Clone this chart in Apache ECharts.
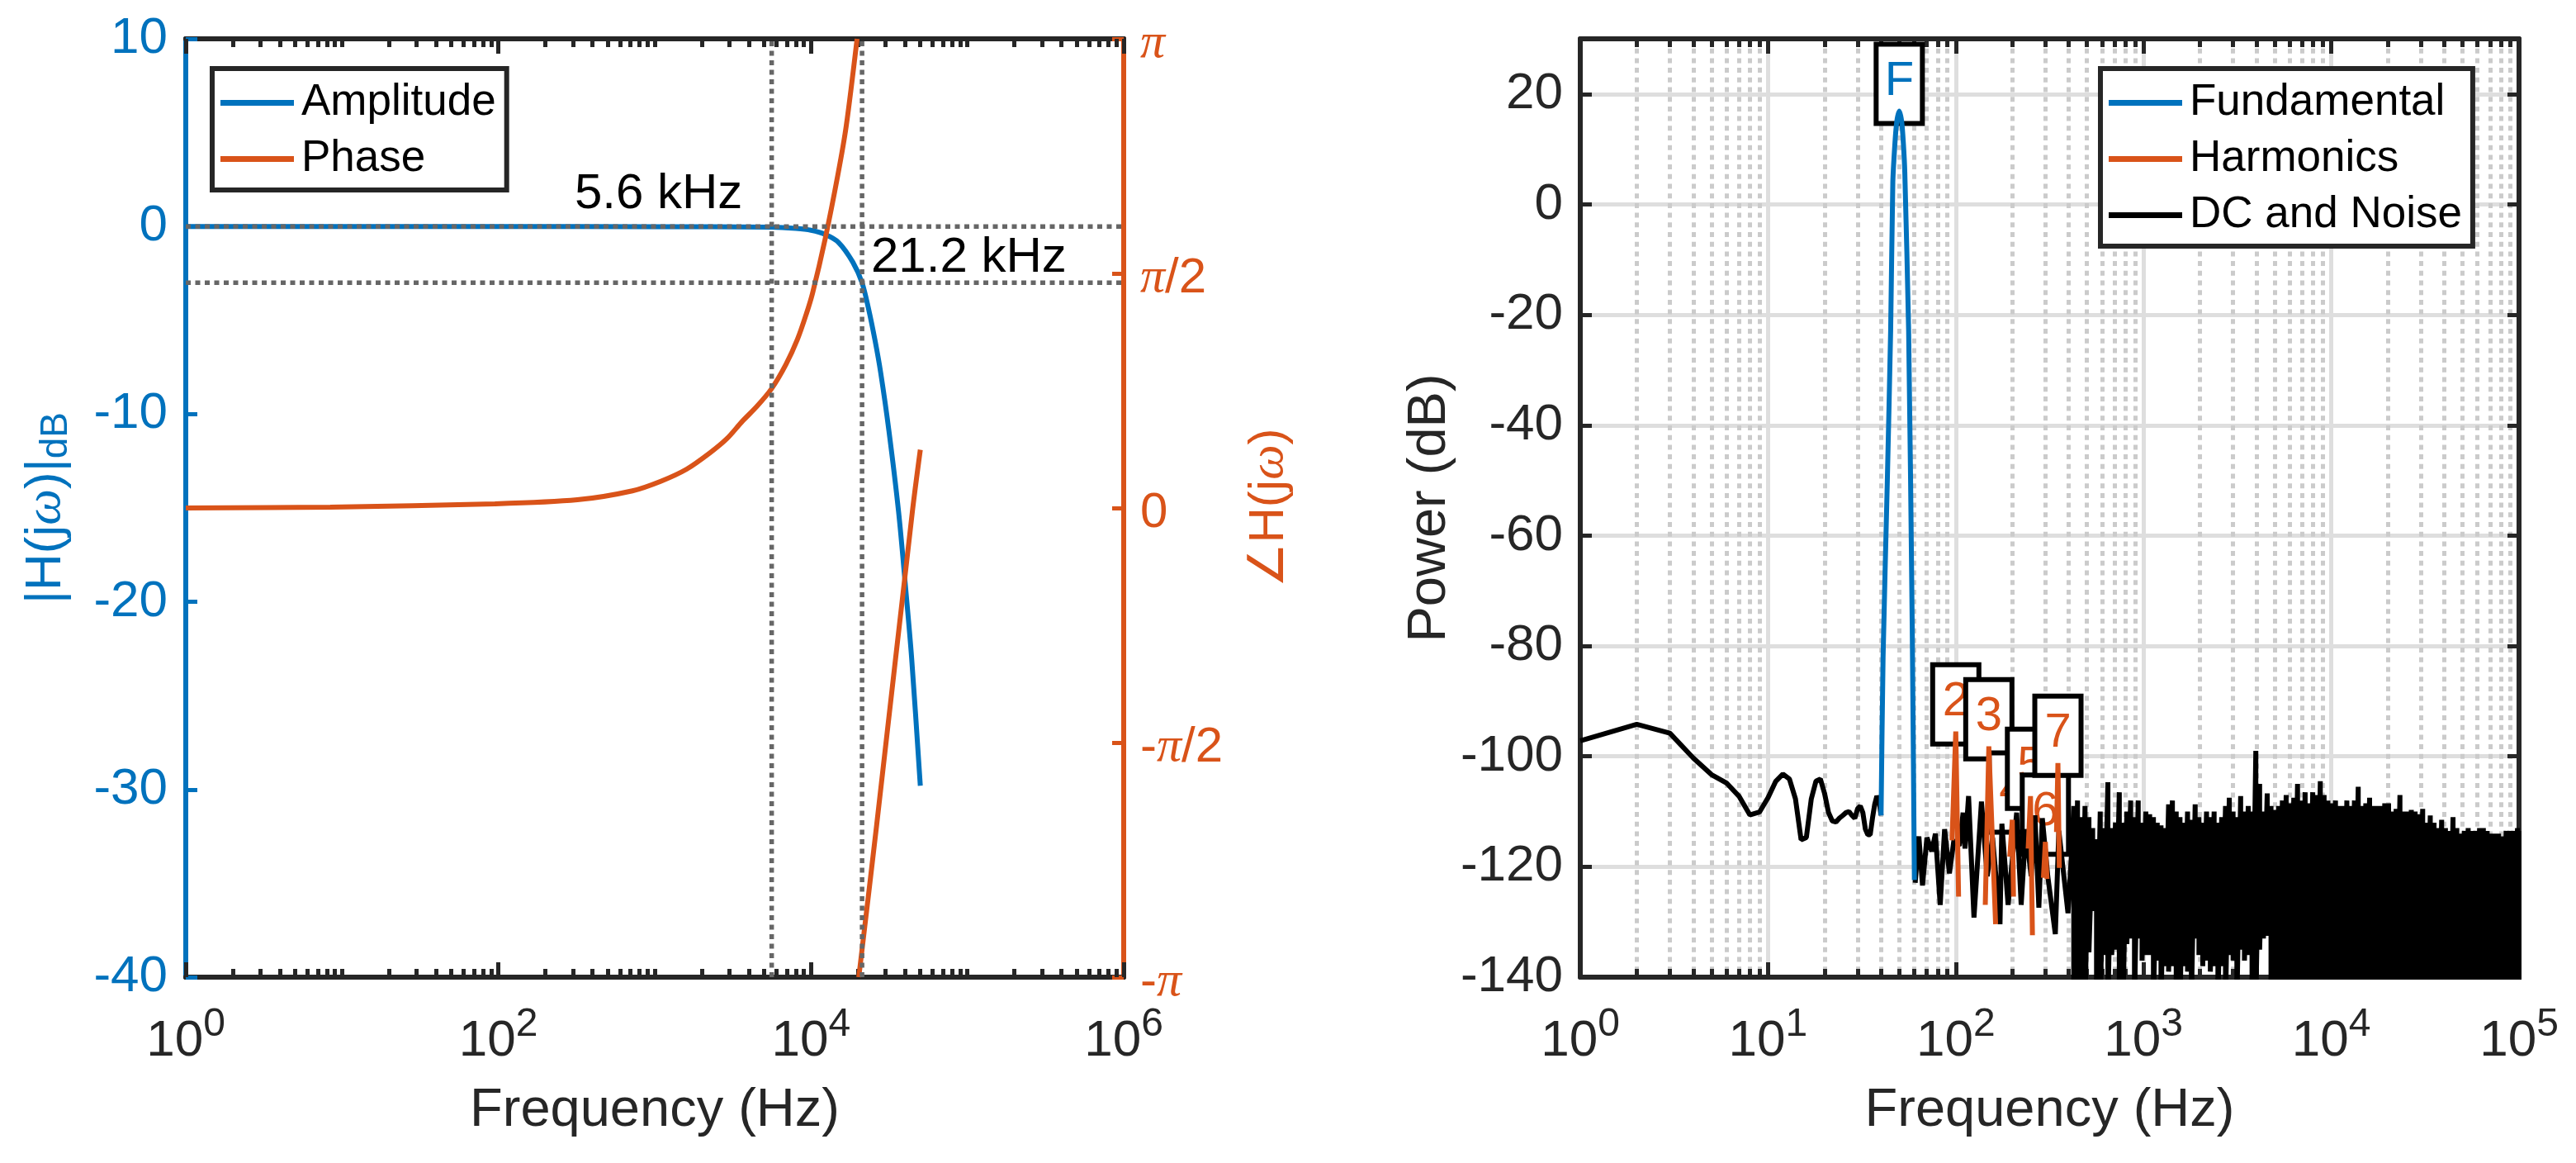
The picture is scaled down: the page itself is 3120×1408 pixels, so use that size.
<!DOCTYPE html>
<html>
<head>
<meta charset="utf-8">
<script src="https://cdn.jsdelivr.net/npm/echarts@6/dist/echarts.min.js"></script>
<style>
html, body { margin: 0; padding: 0; background: #fff; }
#main { width: 3120px; height: 1408px; }
</style>
</head>
<body>
<div id="main"></div>
<script>
var BLUE = '#0072BD', ORANGE = '#D95319', DARK = '#262626';
var FONT = '"Liberation Sans", Arial, sans-serif';

// left panel: filter response
var ampFreq = [1, 100, 1000, 5600, 8000, 10000, 12300, 15000, 18500, 21200, 23200, 25700, 27900, 31500, 36300, 40000, 44000, 50000];
var ampDb = [0, 0, -0.01, -0.03, -0.1, -0.2, -0.42, -0.85, -1.9, -3, -4.3, -6.1, -7.8, -10.9, -15.2, -19, -23, -29.8];
var phaseFreq = [1, 8.4, 95, 320, 720, 1100, 1600, 2260, 2900, 3630, 4500, 5600, 6900, 8190, 9330, 10230, 12300, 14900, 16800, 19700, 19700, 20200, 26300, 44500, 50000];
var phaseRad = [0, 0.006, 0.028, 0.055, 0.115, 0.18, 0.26, 0.37, 0.465, 0.58, 0.68, 0.8, 0.96, 1.13, 1.3, 1.44, 1.8, 2.24, 2.56, 3.14159, null, -3.14159, -2.12, -0.022, 0.39];
var cutoffFreqs = [5600, 21200];
var cutoffDbs = [0, -3];
var phaseTickLabels = ['-{i|π}', '-{i|π}/2', '0', '{i|π}/2', '{i|π}'];

// right panel: power spectrum
var fundFreq = [40, 41, 43.2, 45, 46.2, 47.4, 48.5, 50, 51.5, 52.6, 53.5, 56.1, 58.6, 60.2];
var fundDb = [-110.7, -82, -50, -22.7, 4, 11, 15, 16.9, 15, 11, 6, -23, -76, -122.4];
var fundPeakIndex = 7;

var harmFreq = [95.5, 100, 103.5, null, 143.6, 150, 163, null, 194, 200, 203, null, 243, 250, 256, null, 293, 300, 306, null, 344, 350, 356];
var harmDb = [-115.2, -95.5, -125.4, null, -126.9, -98.2, -130.4, null, -118.2, -111.5, -125.4, null, -116.7, -107.2, -132.4, null, -122, -115.5, -122.2, null, -113.7, -101.2, -120.2];
var harmLabels = ['2', '3', '4', '5', '6', '7'];
var harmPeakFreq = [100, 150, 200, 250, 300, 350];
var harmPeakDb = [-95.5, -98.2, -111.5, -107.2, -115.5, -101.2];

// low frequency part of the noise trace, read point by point
var lowFreq = [1, 2, 3, 4, 5, 6, 7, 8, 9, 10, 11, 12, 13, 14, 15, 16, 17, 18, 19, 20, 21, 22, 23, 24, 25, 26, 27, 28, 29, 30, 31, 32, 33, 34, 35, 36, 37, 38, 39, 40];
var lowDb = [-97.2, -94.2, -95.8, -100.3, -103.3, -104.8, -107.2, -110.6, -110.1, -107.5, -104.5, -103.2, -104.1, -107.7, -115.1, -114.7, -107.7, -104.5, -104.1, -106.7, -110.2, -111.7, -111.9, -111.2, -110.7, -110.2, -110, -110.7, -111.2, -109.5, -109, -110.2, -113.2, -114.2, -114.2, -111.2, -108.7, -107.2, -108, -110.7];
var midFreq = [60.8, 63.6, 66.5, 70.2, 74.5, 77.9, 82.6, 87.2, 92.5, 97.7, 104.5, 109.4, 112, 117, 125, 137, 147, 157, 172, 176, 190, 211, 223, 236, 252, 264, 277, 289, 309, 339, 354, 396, 415];
var midDb = [-122.9, -114.5, -123.4, -114.7, -117.2, -114, -126.9, -113.2, -121.2, -115.2, -116.2, -110.2, -116.7, -107.2, -129.2, -108.2, -121.7, -114.7, -130.4, -112.2, -126.9, -110.2, -126.9, -113.2, -121.7, -110.7, -127.4, -111.2, -121.7, -132.2, -113.5, -128.4, -116.7];

// dense part: top and bottom of the black band at each frequency
var bandFreq = [425, 445, 466, 488, 512, 536, 562, 588, 616, 646, 677, 709, 743, 778, 815, 854, 895, 937, 982, 1029,
    1078, 1129, 1183, 1239, 1298, 1360, 1425, 1493, 1564, 1638, 1716, 1798, 1884, 1973, 2067, 2166, 2269, 2377, 2490, 2608,
    2733, 2863, 2999, 3142, 3291, 3448, 3612, 3784, 3964, 4153, 4351, 4558, 4775, 5002, 5240, 5490, 5751, 6025, 6312, 6612,
    6927, 7257, 7602, 7964, 8343, 8741, 9157, 9593, 10050, 10528, 11029, 11554, 12104, 12680, 13284, 13916, 14578, 15272, 15999, 16761,
    17559, 18395, 19270, 20188, 21149, 22155, 23210, 24315, 25472, 26685, 27955, 29286, 30680, 32141, 33671, 35274, 36953, 38712, 40555, 42485,
    44508, 46626, 48846, 51171, 53607, 56159, 58832, 61632, 64566, 67640, 70860, 74233, 77766, 81468, 85346, 89409, 93665, 98124, 100000];
var bandTop = [-109, -108, -111, -109, -111, -113, -115, -110, -113, -104.7, -113, -112, -106.5, -112, -110, -108, -111, -108, -112, -110,
    -110.5, -111, -112, -112.5, -113, -108.7, -108, -110, -111, -112, -110, -111.5, -108.7, -111, -112, -110, -111, -110, -112, -111,
    -109, -107.5, -110, -111, -107.2, -110, -109, -110, -99, -105, -110, -106.7, -109, -109.7, -109, -108, -107, -108.5, -107.5, -105,
    -108, -106.5, -108.5, -106.5, -107, -104.5, -107, -108, -108.5, -108, -109, -109, -108, -109, -108, -105.5, -109, -108.5, -107.5, -109,
    -109, -109, -108.5, -108.5, -110, -109.5, -107, -110, -110, -109.7, -110, -110.5, -109.5, -112, -110.7, -112, -113, -111.5, -113, -113.5,
    -111, -113, -114, -113.5, -113, -113.5, -113.5, -113, -113, -113.5, -114, -114, -114, -114.5, -113.5, -113.5, -113.5, -113, -113.5];
var bandBottom = [-145, -145, -145, -145, -135.5, -128, -145, -145, -136, -145, -136, -135, -145, -145, -134, -133, -145, -133, -137, -136,
    -136, -145, -137, -145, -138, -139, -138, -145, -145, -138, -139, -145, -133, -136, -138, -137, -139, -138, -145, -138,
    -145, -136, -137, -145, -135, -137, -136, -145, -145, -135, -133, -132.5, -145, -145, -145, -145, -145, -145, -145, -145,
    -145, -145, -145, -145, -145, -145, -145, -145, -145, -145, -145, -145, -145, -145, -145, -145, -145, -145, -145, -145,
    -145, -145, -145, -145, -145, -145, -145, -145, -145, -145, -145, -145, -145, -145, -145, -145, -145, -145, -145, -145,
    -145, -145, -145, -145, -145, -145, -145, -145, -145, -145, -145, -145, -145, -145, -145, -145, -145, -145, -145];

function zip(xs, ys) {
    return xs.map(function (x, i) {
        return [x, ys[i] === null ? '-' : ys[i]];
    });
}

// low part, gap under the fundamental, middle part, then the band as vertical strokes
var noiseData = zip(lowFreq, lowDb);
noiseData.push([50, '-']);
noiseData = noiseData.concat(zip(midFreq, midDb));
bandFreq.forEach(function (f, i) {
    noiseData.push([f, bandTop[i]]);
    noiseData.push([f, bandBottom[i]]);
});

function powLabel(value) {
    return '{b|10}{s|' + Math.round(Math.log(value) / Math.LN10) + '}';
}
var powRich = {
    b: { fontSize: 62, fontFamily: FONT, color: DARK },
    s: { fontSize: 48, fontFamily: FONT, color: DARK, padding: [0, 0, 40, 0] }
};

function logAxis(opt) {
    var axis = {
        type: 'log',
        min: opt.min,
        max: opt.max,
        logBase: opt.base,
        gridIndex: opt.grid,
        position: opt.pos,
        axisLine: { show: true, onZero: false, lineStyle: { color: DARK, width: 6 } },
        axisTick: { show: opt.major, inside: true, length: opt.major ? opt.tickLen : 0, lineStyle: { color: DARK, width: 5 } },
        minorTick: { show: opt.minor, splitNumber: 9, length: 10, lineStyle: { color: DARK, width: 5 } },
        axisLabel: { show: false },
        splitLine: { show: false },
        minorSplitLine: { show: false }
    };
    if (opt.labels) {
        axis.axisLabel = { show: true, margin: 34, formatter: powLabel, rich: powRich, hideOverlap: false, showMinLabel: true, showMaxLabel: true };
        axis.name = 'Frequency (Hz)';
        axis.nameLocation = 'middle';
        axis.nameGap = 130;
        axis.nameTextStyle = { fontSize: 65, fontFamily: FONT, color: DARK };
    }
    if (opt.grids) {
        axis.splitLine = { show: true, lineStyle: { color: '#dedede', width: 5 } };
        axis.minorSplitLine = { show: true, lineStyle: { color: '#cbcbcb', width: 5, type: [6, 5.7] } };
    }
    return axis;
}

var xAxes = [
    // left panel: labels every two decades, short ticks on a second axis
    logAxis({ grid: 0, pos: 'bottom', min: 1, max: 1000000, base: 100, major: true, minor: false, tickLen: 18, labels: true }),
    logAxis({ grid: 0, pos: 'top', min: 1, max: 1000000, base: 100, major: true, minor: false, tickLen: 18 }),
    logAxis({ grid: 0, pos: 'bottom', min: 1, max: 1000000, base: 10, major: true, minor: true, tickLen: 10 }),
    logAxis({ grid: 0, pos: 'top', min: 1, max: 1000000, base: 10, major: true, minor: true, tickLen: 10 }),
    // right panel
    logAxis({ grid: 1, pos: 'bottom', min: 1, max: 100000, base: 10, major: true, minor: true, tickLen: 18, labels: true, grids: true }),
    logAxis({ grid: 1, pos: 'top', min: 1, max: 100000, base: 10, major: true, minor: true, tickLen: 18 })
];

var yAxes = [
    {
        type: 'value', gridIndex: 0, position: 'left', min: -40, max: 10, interval: 10,
        name: '|H(j{w|ω})|{d|dB}', nameLocation: 'middle', nameRotate: 90, nameGap: 134,
        nameTextStyle: {
            fontSize: 62, fontFamily: FONT, color: BLUE,
            rich: {
                w: { fontSize: 62, fontFamily: '"Liberation Serif"', fontStyle: 'italic', color: BLUE },
                d: { fontSize: 46, fontFamily: FONT, color: BLUE, padding: [24, 0, 0, 0] }
            }
        },
        axisLine: { show: true, onZero: false, lineStyle: { color: BLUE, width: 6 } },
        axisTick: { show: true, inside: true, length: 14, lineStyle: { color: BLUE, width: 5 } },
        axisLabel: { margin: 22, fontSize: 62, fontFamily: FONT, color: BLUE, padding: [10, 0, 0, 0] },
        splitLine: { show: false }
    },
    {
        type: 'value', gridIndex: 0, position: 'right', min: -Math.PI, max: Math.PI, interval: Math.PI / 2,
        name: '∠H(j{w|ω})', nameLocation: 'middle', nameRotate: 90, nameGap: 146,
        nameTextStyle: {
            fontSize: 60, fontFamily: FONT, color: ORANGE,
            rich: { w: { fontSize: 60, fontFamily: '"Liberation Serif"', fontStyle: 'italic', color: ORANGE } }
        },
        axisLine: { show: true, onZero: false, lineStyle: { color: ORANGE, width: 6 } },
        axisTick: { show: true, inside: true, length: 14, lineStyle: { color: ORANGE, width: 5 } },
        axisLabel: {
            margin: 20, fontSize: 60, fontFamily: FONT, color: ORANGE, padding: [12, 0, 0, 0],
            formatter: function (v, i) { return phaseTickLabels[i]; },
            rich: { i: { fontSize: 60, fontFamily: '"Liberation Serif"', fontStyle: 'italic', color: ORANGE } }
        },
        splitLine: { show: false }
    },
    {
        type: 'value', gridIndex: 1, position: 'left', min: -140, max: 30, interval: 20,
        name: 'Power (dB)', nameLocation: 'middle', nameRotate: 90, nameGap: 144,
        nameTextStyle: { fontSize: 65, fontFamily: FONT, color: DARK },
        axisLine: { show: true, onZero: false, lineStyle: { color: DARK, width: 6 } },
        axisTick: { show: true, inside: true, length: 14, lineStyle: { color: DARK, width: 5 } },
        axisLabel: {
            margin: 21, fontSize: 62, fontFamily: FONT, color: DARK, padding: [8, 0, 0, 0],
            formatter: function (v) { return v > 20 ? '' : String(v); }
        },
        splitLine: { show: true, lineStyle: { color: '#dedede', width: 5 } }
    },
    {
        type: 'value', gridIndex: 1, position: 'right', min: -140, max: 30, interval: 20,
        axisLine: { show: true, onZero: false, lineStyle: { color: DARK, width: 6 } },
        axisTick: { show: true, inside: true, length: 14, lineStyle: { color: DARK, width: 5 } },
        axisLabel: { show: false },
        splitLine: { show: false }
    }
];

function lineSeries(name, data, color, xi, yi, z, smooth) {
    return {
        name: name, type: 'line', data: data, xAxisIndex: xi, yAxisIndex: yi, z: z,
        showSymbol: false, symbol: 'none', animation: false, connectNulls: false, sampling: false,
        smooth: smooth || false,
        lineStyle: { color: color, width: 6 }, itemStyle: { color: color }
    };
}

function dotted(data) {
    return {
        type: 'line', data: data, xAxisIndex: 0, yAxisIndex: 0, z: 5,
        showSymbol: false, symbol: 'none', animation: false, silent: true,
        lineStyle: { color: '#666666', width: 5.5, type: [6, 5.5] }
    };
}

function textSeries(data, label, xi, yi, z) {
    return {
        type: 'scatter', data: data, xAxisIndex: xi, yAxisIndex: yi, z: z,
        symbolSize: 0, animation: false, silent: true, itemStyle: { opacity: 1 }, label: label
    };
}

function boxLabel(color) {
    return {
        show: true, position: 'top', distance: 0, offset: [0, 12], formatter: '{b}', opacity: 1,
        width: 50, height: 90, lineHeight: 96, align: 'center',
        fontSize: 58, fontFamily: FONT, color: color,
        backgroundColor: '#fff', borderColor: '#000', borderWidth: 6
    };
}

var noteLabel = {
    show: true, position: 'right', distance: 0, formatter: '{b}', opacity: 1,
    fontSize: 60, fontFamily: FONT, color: '#000'
};

var series = [
    lineSeries('Amplitude', zip(ampFreq, ampDb), BLUE, 0, 0, 3, 0.3),
    lineSeries('Phase', zip(phaseFreq, phaseRad), ORANGE, 0, 1, 3, 0.3),
    dotted([[cutoffFreqs[0], -40], [cutoffFreqs[0], 10]]),
    dotted([[cutoffFreqs[1], -40], [cutoffFreqs[1], 10]]),
    dotted([[1, cutoffDbs[0]], [1000000, cutoffDbs[0]]]),
    dotted([[1, cutoffDbs[1]], [1000000, cutoffDbs[1]]]),
    textSeries([{ name: '5.6 kHz', value: [307, 1.7] }, { name: '21.2 kHz', value: [24200, -1.7] }], noteLabel, 0, 0, 6),

    textSeries(harmLabels.map(function (t, i) {
        return { name: t, value: [harmPeakFreq[i], harmPeakDb[i]] };
    }), boxLabel(ORANGE), 4, 2, 2),
    textSeries([{ name: 'F', value: [fundFreq[fundPeakIndex], fundDb[fundPeakIndex]] }], boxLabel(BLUE), 4, 2, 2),
    lineSeries('DC and Noise', noiseData, '#000', 4, 2, 3),
    lineSeries('Harmonics', zip(harmFreq, harmDb), ORANGE, 4, 2, 4),
    lineSeries('Fundamental', zip(fundFreq, fundDb), BLUE, 4, 2, 4, 0.2)
];

function legendOpt(names, left) {
    return {
        data: names, left: left, top: 83, orient: 'vertical', selectedMode: false,
        icon: 'rect', itemWidth: 89, itemHeight: 7, itemGap: 15, padding: [15, 13, 11, 10],
        backgroundColor: '#fff', borderColor: DARK, borderWidth: 6, borderRadius: 0,
        textStyle: { fontSize: 53, fontFamily: FONT, color: '#000', padding: [0, 0, 0, 4] }
    };
}

var chart = echarts.init(document.getElementById('main'), null, { renderer: 'canvas' });
chart.setOption({
    backgroundColor: '#fff',
    animation: false,
    grid: [
        { left: 225, top: 47, width: 1136, height: 1136 },
        { left: 1914, top: 47, width: 1137, height: 1136 }
    ],
    legend: [legendOpt(['Amplitude', 'Phase'], 257), legendOpt(['Fundamental', 'Harmonics', 'DC and Noise'], 2544)],
    xAxis: xAxes,
    yAxis: yAxes,
    series: series
});
</script>
</body>
</html>
